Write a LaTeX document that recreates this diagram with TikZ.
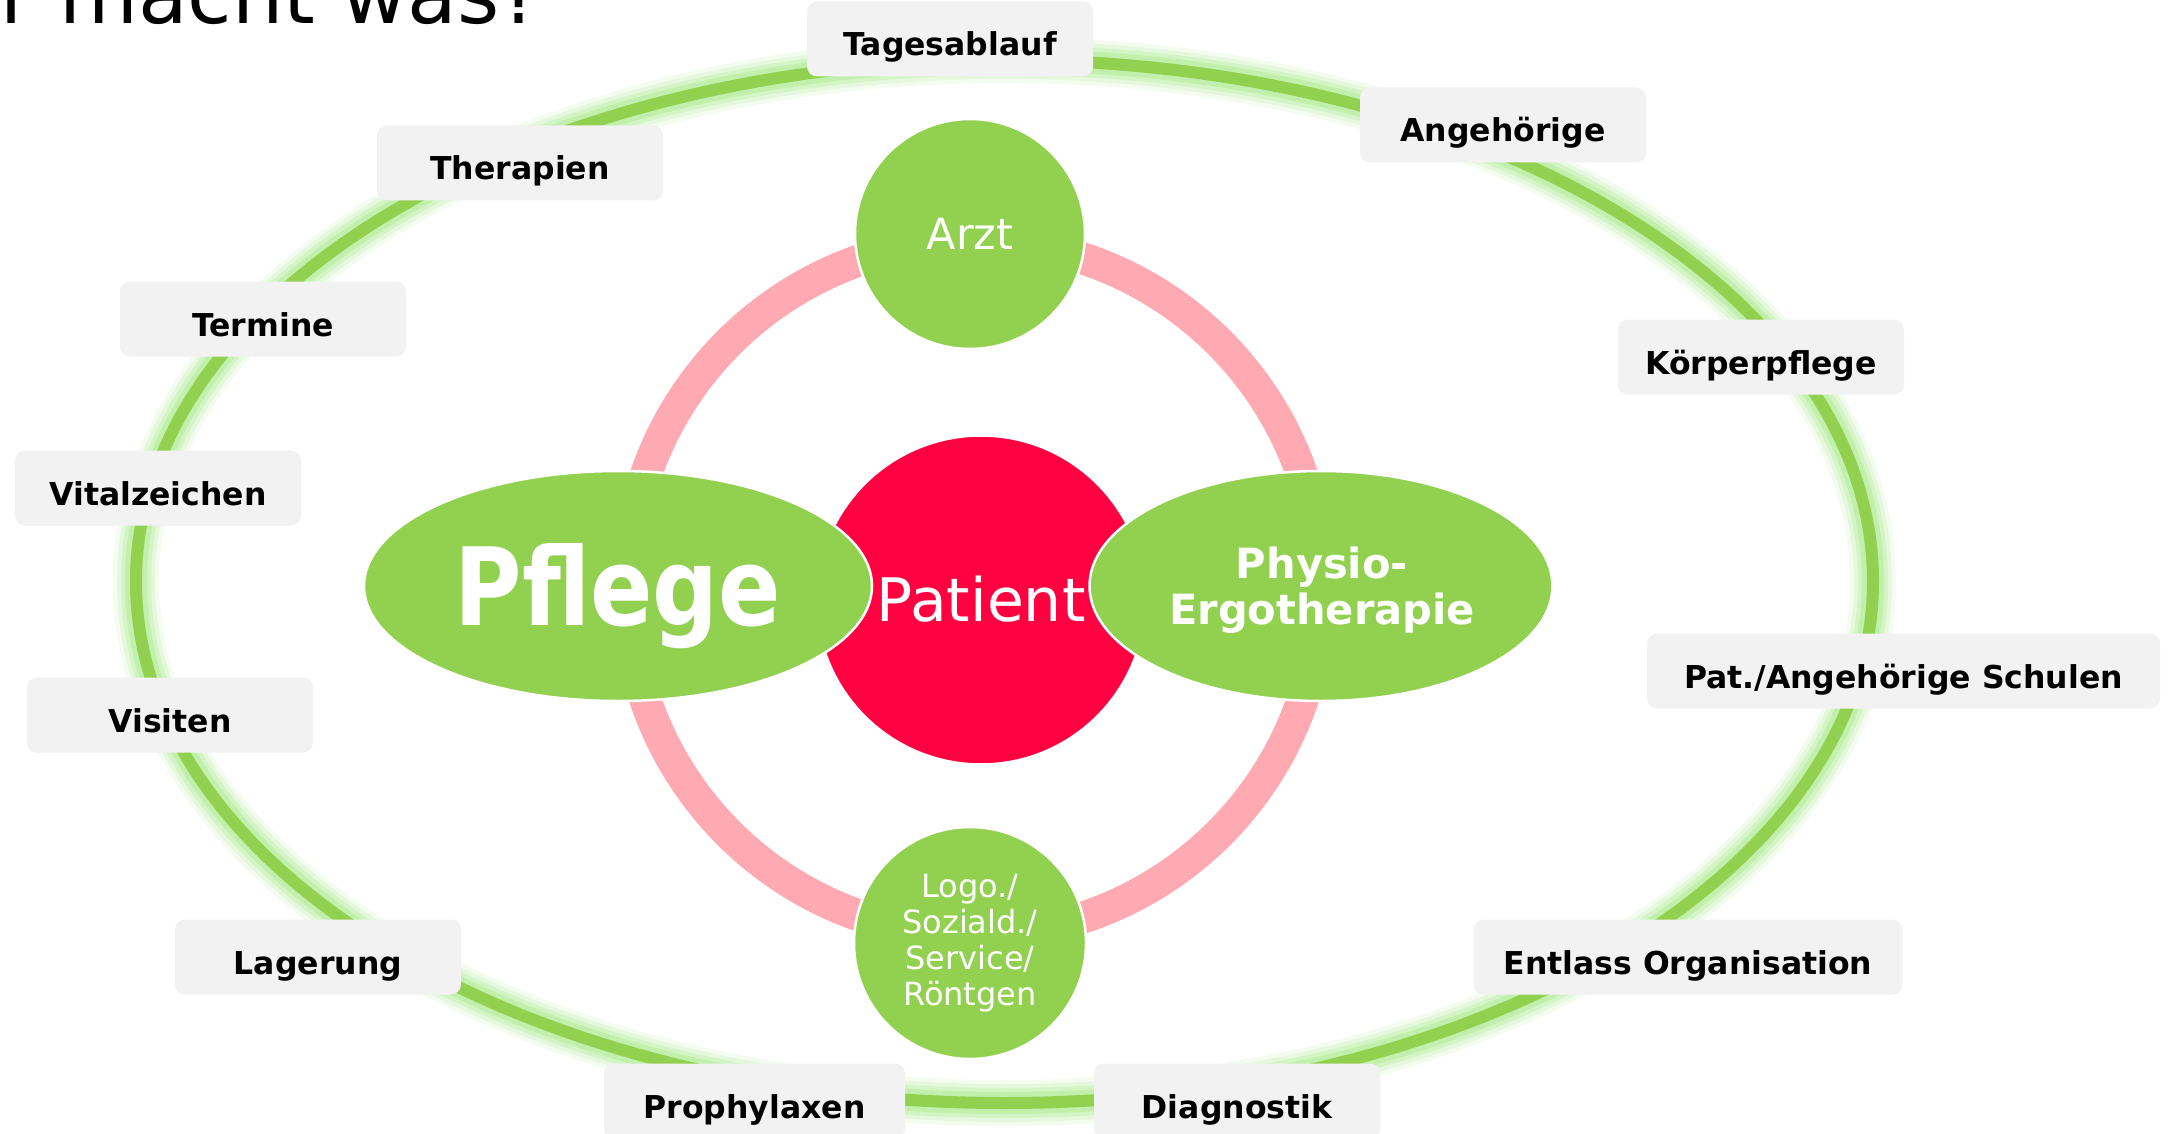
\documentclass[tikz,border=0pt]{standalone}
\usepackage{graphicx}
\usepackage{fontspec}
\setmainfont{DejaVu Sans}
\usetikzlibrary{shapes.geometric}
\definecolor{ringgreen}{HTML}{92D050}
\definecolor{glowgreen}{HTML}{A6EB8A}
\definecolor{pinkring}{HTML}{FFA9B2}
\definecolor{patred}{HTML}{FF0040}
\definecolor{boxgray}{HTML}{F2F2F2}
\newcommand{\fsz}[2]{\fontsize{#1}{#2}\selectfont}
\begin{document}
\begin{tikzpicture}[x=1pt,y=-1pt,
  lbl/.style={rounded corners=10pt, fill=boxgray, inner sep=0pt,
    minimum width=286pt, minimum height=75pt, text height=36pt, text depth=2pt,
    font=\bfseries\fsz{31.5}{38}, text=black},
  greenshape/.style={fill=ringgreen, draw=white, line width=2.5pt, inner sep=0pt, text=white}]
\useasboundingbox (0,0) rectangle (2172,1134);
\fill[white] (0,0) rectangle (2172,1134);

% title (cut by the page edge)
\node[anchor=base west, inner sep=0pt, font=\fsz{81}{92}] (title) at (0,24) {r macht was?};

% outer ring with glow
\foreach \w/\o in {46/0.12, 38/0.18, 30/0.28, 22/0.4}
  \draw[glowgreen, opacity=\o, line width=\w pt] (1004.5,581.5) ellipse [x radius=868.5, y radius=521.5];
\draw[ringgreen, line width=12pt] (1004.5,581.5) ellipse [x radius=868.5, y radius=521.5];

% labels on the outer ring
\node[lbl] (tages) at (950,39) {Tagesablauf};
\node[lbl] (angeh) at (1503,125) {Angehörige};
\node[lbl] (thera) at (520,163) {Therapien};
\node[lbl] (termine) at (263,319) {Termine};
\node[lbl] (koerper) at (1761,357) {Körperpflege};
\node[lbl] (vital) at (158,488) {Vitalzeichen};
\node[lbl, minimum width=513pt] (schulen) at (1903.5,671) {Pat./Angehörige Schulen};
\node[lbl] (visiten) at (170,715) {Visiten};
\node[lbl] (lagerung) at (318,957) {Lagerung};
\node[lbl, minimum width=429pt] (entlass) at (1688,957) {Entlass Organisation};
\node[lbl, minimum width=301pt] (prophy) at (754.5,1101) {Prophylaxen};
\node[lbl] (diagn) at (1237,1101) {Diagnostik};

% inner pink ring
\draw[pinkring, line width=32pt] (974,588) circle [radius=347];

% centre
\node[circle, fill=patred, draw=white, line width=2.5pt, minimum size=329pt, inner sep=0pt,
  text=white, font=\fsz{60}{72}, text height=43.7pt, text depth=0pt] (patient) at (981,600) {Patient};

\node[ellipse, greenshape, minimum width=508pt, minimum height=230pt,
  font=\bfseries\fsz{108}{120}, text height=78.7pt, text depth=0pt] (pflege) at (618,586) {\scalebox{0.853}[1]{Pflege}};
\node[ellipse, greenshape, minimum width=463pt, minimum height=230pt] (physio) at (1321,586) {};
\node[inner sep=0pt, text=white, font=\bfseries\fsz{41.6}{46}, align=center] (physiotext) at (1322,590) {Physio-\\Ergotherapie};

\node[circle, greenshape, minimum size=230pt, font=\fsz{43}{50},
  text height=31.3pt, text depth=0pt] (arzt) at (970,234) {Arzt};
\node[circle, greenshape, minimum size=232pt, font=\fsz{32}{36}, align=center]
  (logo) at (970,943) {Logo./\\Soziald./\\Service/\\Röntgen};
\end{tikzpicture}
\end{document}
